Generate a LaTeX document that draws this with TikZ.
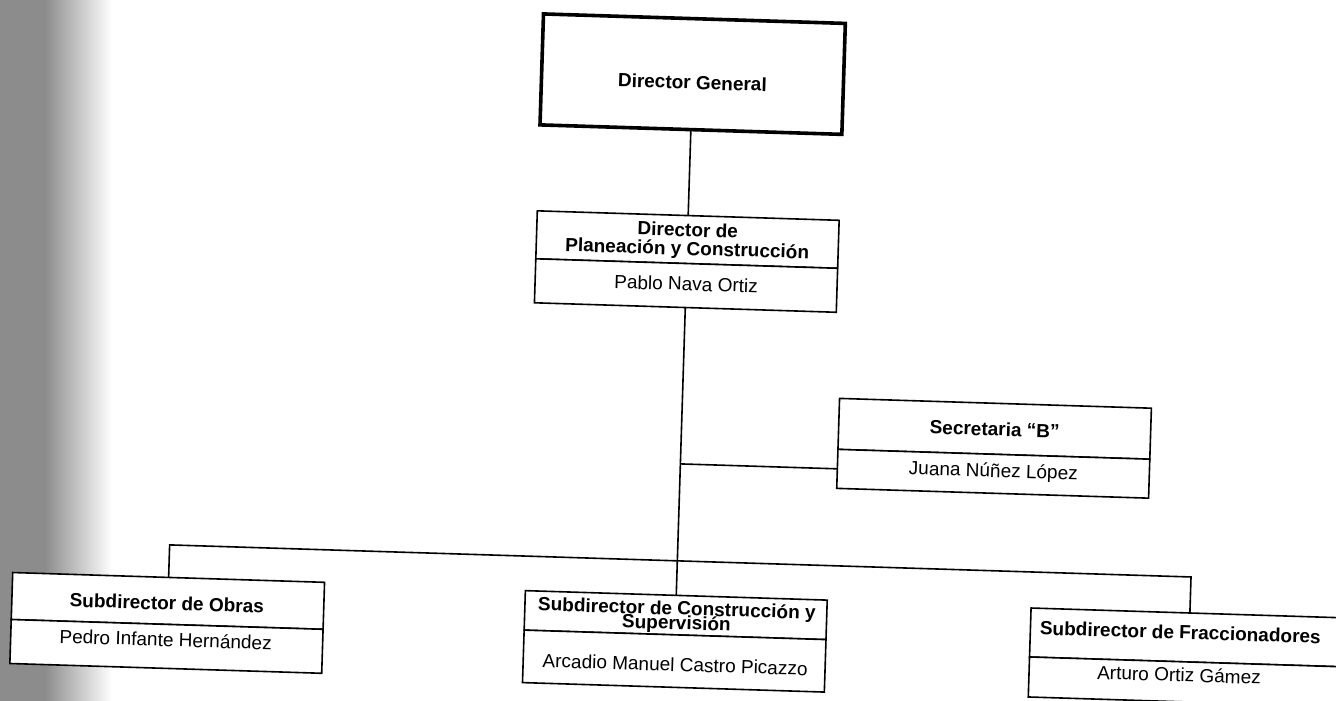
\documentclass[tikz,border=0pt]{standalone}
\usepackage{fontspec}
\setmainfont{Liberation Sans}
\begin{document}
\begin{tikzpicture}[x=1pt,y=-1pt,
  box/.style={draw, line width=1.6pt, fill=white, inner sep=0pt, outer sep=0pt, transform shape},
  thickbox/.style={box, line width=3.6pt},
  ttl/.style={font=\fontsize{19}{19}\selectfont\bfseries, inner sep=0pt, anchor=base, transform shape},
  nm/.style={font=\fontsize{19}{19}\selectfont, inner sep=0pt, anchor=base, transform shape},
  conn/.style={line width=1.6pt}]
\useasboundingbox (0,0) rectangle (1336,701);
\clip (0,0) rectangle (1336,701);
\fill[black!45] (0,0) rectangle (45,701);
\shade[left color=black!45,right color=white] (45,0) rectangle (112,701);
\begin{scope}[rotate around={-1.8:(668,350)}]
% Director General
\node[thickbox, minimum width=302pt, minimum height=111pt] (dg) at (684,73.5) {};
\node[ttl] (dgt) at (684,88.5) {Director General};
% Director de Planeacion
\node[box, minimum width=302pt, minimum height=48pt] (plT) at (684,239) {};
\node[box, minimum width=302pt, minimum height=44pt] (plN) at (684,285) {};
\node[ttl] (pl1) at (684,236) {Director de};
\node[ttl] (pl2) at (684,254.5) {Planeación y Construcción};
\node[nm] (pl3) at (684,290) {Pablo Nava Ortiz};
% Secretaria
\node[box, minimum width=312pt, minimum height=51pt] (secT) at (997,418.5) {};
\node[box, minimum width=312pt, minimum height=39pt] (secN) at (997,463.5) {};
\node[ttl] (sec1) at (997,425.5) {Secretaria “B”};
\node[nm] (sec2) at (997,467) {Juana Núñez López};
% Obras
\node[box, minimum width=312pt, minimum height=47pt] (obT) at (176,616.5) {};
\node[box, minimum width=312pt, minimum height=44pt] (obN) at (176,662) {};
\node[ttl] (ob1) at (175,625.5) {Subdirector de Obras};
\node[nm] (ob2) at (175,662) {Pedro Infante Hernández};
% Construccion y Supervision
\node[box, minimum width=302pt, minimum height=39.5pt] (csT) at (684,614.75) {};
\node[box, minimum width=302pt, minimum height=52.5pt] (csN) at (684,660.75) {};
\node[ttl] (cs1) at (685,614.5) {Subdirector de Construcción y};
\node[ttl] (cs2) at (685,629) {Supervisión};
\node[nm] (cs3) at (685,671) {Arcadio Manuel Castro Picazzo};
% Fraccionadores
\node[box, minimum width=318pt, minimum height=49pt] (frT) at (1198,621) {};
\node[box, minimum width=318pt, minimum height=40pt] (frN) at (1198,665.5) {};
\node[ttl] (fr1) at (1189,622.8) {Subdirector de Fraccionadores};
\node[nm] (fr2) at (1189,665.5) {Arturo Ortiz Gámez};
% connectors
\coordinate (j1) at (684,463.5);
\coordinate (jo) at (176,560.5);
\coordinate (jf) at (1198,560.5);
\draw[conn] (dg.south) -- (plT.north);
\draw[conn] (plN.south) -- (csT.north);
\draw[conn] (j1) -- (secN.west);
\draw[conn] (obT.north) -- (jo) -- (jf) -- (frT.north);
\end{scope}
\end{tikzpicture}
\end{document}
